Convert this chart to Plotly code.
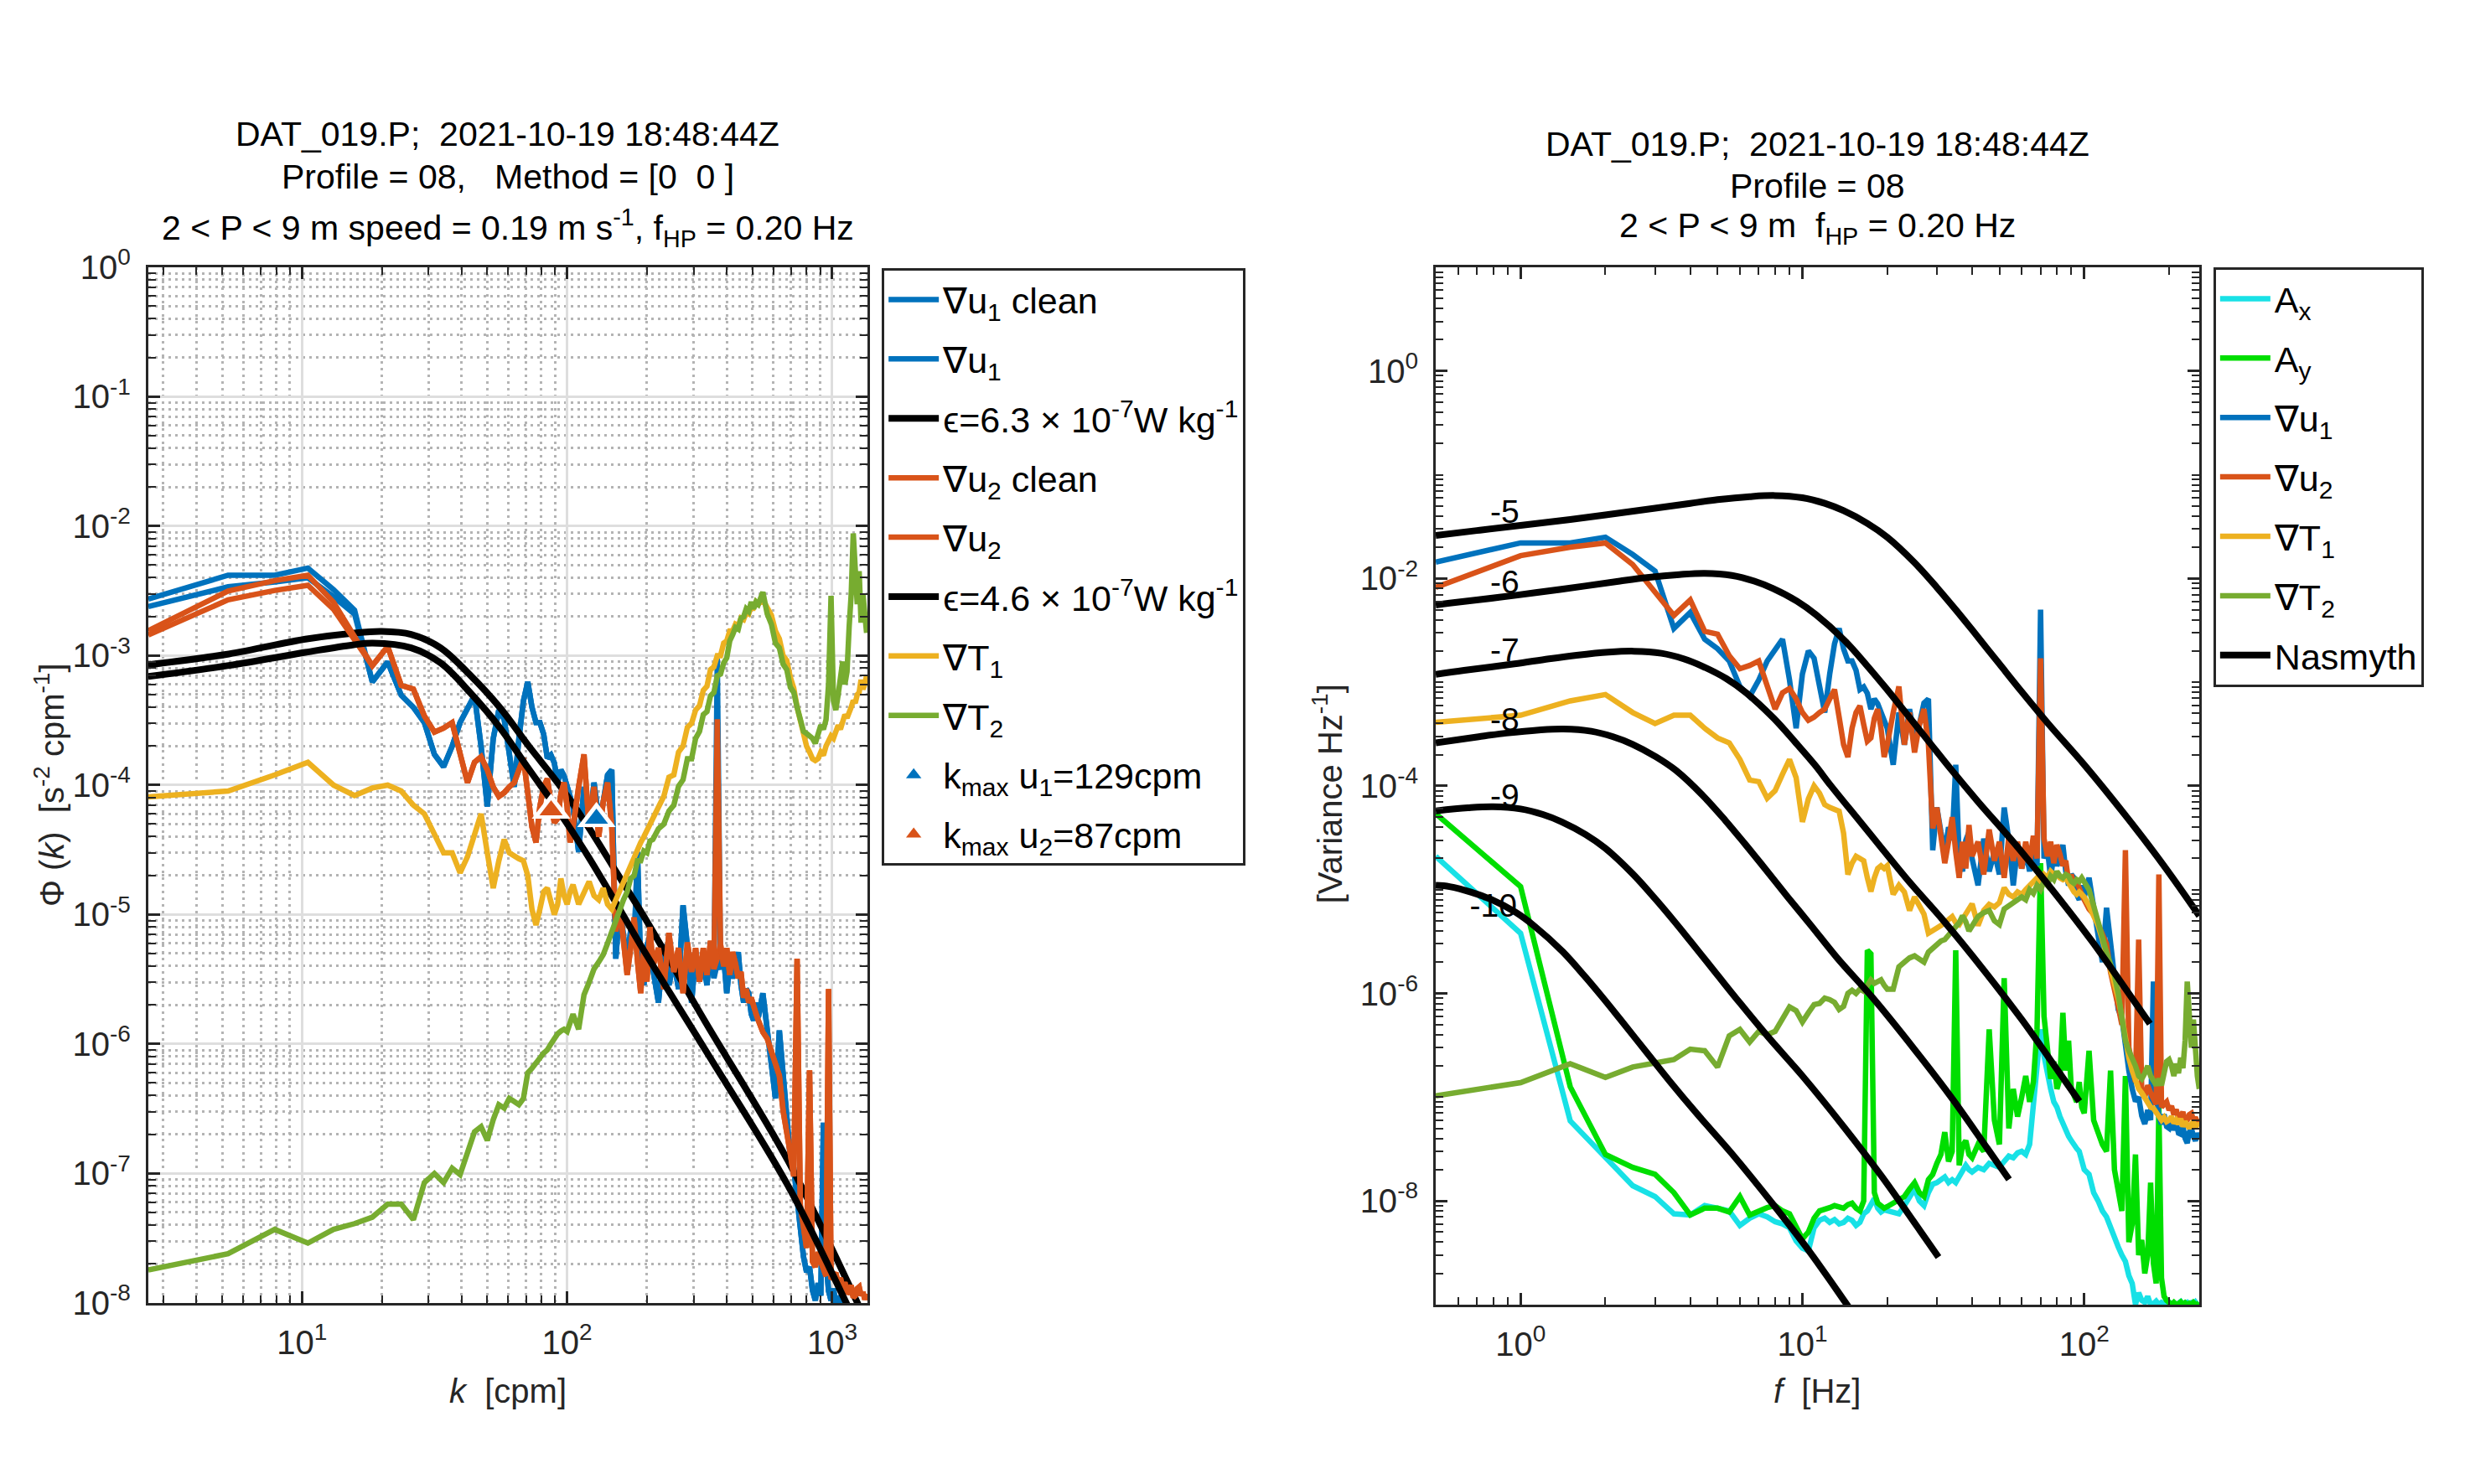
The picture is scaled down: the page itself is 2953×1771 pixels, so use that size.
import numpy as np
import plotly.graph_objects as go

# profiling speed [m/s]: k = f / W and Phi(k) = Phi(f) * W
W = 0.19

# frequency bins of the spectra [Hz]
F = [
    0.5, 1.0, 1.5, 2.0, 2.5, 3.0, 3.5, 4.0, 4.5, 5.0,
    5.5, 6.0, 6.5, 7.0, 7.5, 8.0, 8.5, 9.0, 9.5, 10.0,
    10.5, 11.0, 11.5, 12.0, 12.5, 13.0, 13.5, 14.0, 14.5, 15.0,
    15.5, 16.0, 16.5, 17.0, 17.5, 18.0, 18.5, 19.0, 19.5, 20.0,
    21, 22, 23, 24, 25, 26, 27, 28, 29, 30,
    31, 32, 33, 34, 35, 36, 37, 38, 39, 40,
    42, 44, 46, 48, 50, 52, 54, 56, 58, 60,
    62, 64, 66, 68, 70, 72, 74, 76, 78, 80,
    82, 84, 86, 88, 90, 92, 94, 96, 98, 100,
    104, 108, 112, 116, 120, 124, 128, 132, 136, 140,
    144, 148, 152, 156, 160, 164, 168, 172, 176, 180,
    184, 188, 192, 196, 200, 204, 208, 212, 216, 220,
    224, 228, 232, 236, 240, 244, 248, 252, 256,
]

# ---- frequency spectra (right panel) ----
AX = [
    2.1e-5, 3.8e-6, 5.9e-8, 2.6e-8, 1.4e-8, 1.1e-8, 7.5e-9, 7.3e-9, 9.0e-9, 8.5e-9,
    8.0e-9, 5.8e-9, 6.8e-9, 7.5e-9, 7.0e-9, 6.3e-9, 6.0e-9, 5.5e-9, 4.1e-9, 3.5e-9,
    3.3e-9, 5.5e-9, 6.5e-9, 6.8e-9, 6.2e-9, 6.6e-9, 6.0e-9, 6.2e-9, 6.8e-9, 6.5e-9,
    5.8e-9, 6.2e-9, 7.5e-9, 8.0e-9, 9.5e-9, 1.05e-8, 8.5e-9, 7.8e-9, 8.2e-9, 8.0e-9,
    7.8e-9, 7.5e-9, 9.0e-9, 1.1e-8, 1.3e-8, 1.0e-8, 9.0e-9, 1.2e-8, 1.45e-8, 1.5e-8,
    1.6e-8, 1.7e-8, 1.5e-8, 1.6e-8, 1.5e-8, 1.7e-8, 2.0e-8, 2.2e-8, 2.0e-8, 1.9e-8,
    2.1e-8, 2.0e-8, 2.3e-8, 2.2e-8, 2.1e-8, 2.4e-8, 2.7e-8, 2.6e-8, 2.9e-8, 3.0e-8,
    2.8e-8, 3.5e-8, 8.0e-8, 1.8e-7, 4.5e-7, 2.5e-7, 1.6e-7, 1.2e-7, 9.0e-8, 8.0e-8,
    6.5e-8, 5.5e-8, 4.8e-8, 4.2e-8, 3.8e-8, 3.4e-8, 3.2e-8, 3.0e-8, 2.4e-8, 2.0e-8,
    1.8e-8, 1.2e-8, 1.0e-8, 8.0e-9, 7.0e-9, 5.5e-9, 4.2e-9, 3.6e-9, 3.0e-9, 2.6e-9,
    1.9e-9, 1.6e-9, 1.0e-9, 1.3e-9, 1.1e-9, 1.05e-9, 1.2e-9, 1.0e-9, 1.02e-9, 1.08e-9,
    1.0e-9, 1.05e-9, 1.02e-9, 1.0e-9, 1.06e-9, 1.01e-9, 1.04e-9, 1.0e-9, 1.03e-9, 1.07e-9,
    1.0e-9, 1.02e-9, 1.05e-9, 1.0e-9, 1.04e-9, 1.01e-9, 1.06e-9, 1.0e-9, 1.03e-9,
]
AY = [
    5.4e-5, 1.07e-5, 1.26e-7, 2.8e-8, 2.1e-8, 1.8e-8, 1.2e-8, 7.3e-9, 8.5e-9, 8.5e-9,
    7.8e-9, 1.1e-8, 7.3e-9, 8.0e-9, 8.6e-9, 9.0e-9, 8.0e-9, 7.5e-9, 5.5e-9, 4.3e-9,
    5.0e-9, 6.8e-9, 8.0e-9, 8.2e-9, 8.6e-9, 9.0e-9, 8.8e-9, 8.5e-9, 9.2e-9, 9.5e-9,
    8.5e-9, 8.0e-9, 1.0e-8, 2.6e-6, 2.4e-6, 1.2e-8, 9.5e-9, 9.0e-9, 8.5e-9, 8.8e-9,
    9.5e-9, 1.0e-8, 1.1e-8, 1.3e-8, 1.5e-8, 1.2e-8, 1.1e-8, 1.6e-8, 1.8e-8, 2.3e-8,
    2.8e-8, 4.6e-8, 2.4e-8, 3.0e-8, 2.6e-6, 2.2e-8, 3.4e-8, 3.8e-8, 2.8e-8, 2.6e-8,
    3.5e-8, 3.0e-8, 4.5e-7, 6.0e-8, 3.5e-8, 1.4e-6, 5.0e-8, 1.2e-7, 6.5e-8, 1.0e-7,
    1.6e-7, 9.0e-8, 1.4e-7, 4.5e-7, 1.8e-5, 6.0e-7, 2.5e-7, 1.5e-7, 2.2e-7, 1.2e-7,
    1.5e-7, 6.5e-7, 1.8e-7, 3.5e-7, 1.2e-7, 1.0e-7, 9.0e-8, 1.4e-7, 8.0e-8, 7.0e-8,
    2.8e-7, 6.0e-8, 4.5e-8, 3.5e-8, 3.0e-8, 1.8e-7, 2.0e-8, 1.2e-8, 8.0e-9, 1.6e-7,
    4.0e-9, 6.0e-9, 2.8e-8, 3.0e-9, 4.2e-9, 2.0e-9, 3.0e-9, 1.5e-8, 2.5e-9, 1.6e-9,
    8.0e-8, 1.8e-9, 1.2e-9, 1.1e-9, 1.03e-9, 1.0e-9, 1.05e-9, 1.0e-9, 1.02e-9, 1.06e-9,
    1.0e-9, 1.04e-9, 1.0e-9, 1.03e-9, 1.0e-9, 1.05e-9, 1.01e-9, 1.0e-9, 1.04e-9,
]
GRAD_U1 = [
    1.44e-2, 2.2e-2, 2.2e-2, 2.5e-2, 1.7e-2, 1.18e-2, 3.3e-3, 4.7e-3, 2.6e-3, 2.1e-3,
    1.6e-3, 9.1e-4, 7.3e-4, 1.05e-3, 1.6e-3, 2.1e-3, 2.6e-3, 1.05e-3, 3.6e-4, 1.2e-3,
    2.0e-3, 1.7e-3, 9.1e-4, 5.1e-4, 1.2e-3, 2.35e-3, 3.3e-3, 2.1e-3, 1.6e-3, 1.6e-3,
    1.3e-3, 8.5e-4, 9.0e-4, 7.8e-4, 5.5e-4, 6.9e-4, 6.2e-4, 5.1e-4, 4.5e-4, 3.6e-4,
    1.6e-4, 5.1e-4, 2.5e-4, 5.5e-4, 2.9e-4, 3.9e-4, 6.3e-4, 6.9e-4, 2.4e-5, 6.2e-5,
    3.6e-5, 2.3e-5, 4.0e-5, 3.0e-5, 1.6e-4, 2.0e-5, 1.5e-5, 3.0e-5, 3.6e-5, 2.0e-5,
    1.1e-5, 3.1e-5, 1.5e-5, 2.3e-5, 1.4e-5, 6.2e-5, 3.0e-5, 1.1e-5, 2.6e-5, 1.6e-5,
    2.3e-5, 1.5e-5, 3.0e-5, 1.7e-5, 5.0e-3, 2.0e-5, 2.5e-5, 1.3e-5, 2.2e-5, 1.7e-5,
    2.0e-5, 2.7e-5, 1.5e-5, 1.1e-5, 1.4e-5, 1.3e-5, 9.0e-6, 8.0e-6, 1.1e-5, 8.5e-6,
    1.3e-5, 6.7e-6, 4.1e-6, 2.0e-6, 6.7e-6, 3.2e-6, 1.4e-6, 7.0e-7, 5.8e-7, 3.1e-7,
    1.8e-7, 1.2e-7, 9.1e-8, 1.0e-7, 6.6e-8, 5.5e-8, 7.5e-8, 6.0e-8, 1.3e-6, 1.1e-7,
    6.5e-8, 5.5e-8, 6.8e-8, 5.2e-8, 5.0e-8, 6.0e-8, 4.8e-8, 5.6e-8, 4.5e-8, 4.4e-8,
    5.2e-8, 4.0e-8, 3.6e-8, 4.6e-8, 5.0e-8, 4.2e-8, 3.8e-8, 4.5e-8, 4.0e-8,
]
GRAD_U1_CLEAN = [
    1.26e-2, 1.79e-2, 1.95e-2, 2.1e-2, 1.5e-2, 1.1e-2, 3.3e-3, 4.7e-3, 2.6e-3, 2.1e-3,
    1.6e-3, 9.1e-4, 7.3e-4, 1.05e-3, 1.6e-3, 2.1e-3, 2.6e-3, 1.05e-3, 3.6e-4, 1.2e-3,
    2.0e-3, 1.7e-3, 9.1e-4, 5.1e-4, 1.2e-3, 2.35e-3, 3.3e-3, 2.1e-3, 1.6e-3, 1.6e-3,
    1.3e-3, 8.5e-4, 9.0e-4, 7.8e-4, 5.5e-4, 6.9e-4, 6.2e-4, 5.1e-4, 4.5e-4, 3.6e-4,
    1.6e-4, 5.1e-4, 2.5e-4, 5.5e-4, 2.9e-4, 3.9e-4, 6.3e-4, 6.9e-4, 2.4e-5, 6.2e-5,
    3.6e-5, 2.3e-5, 4.0e-5, 3.0e-5, 1.6e-4, 2.0e-5, 1.5e-5, 3.0e-5, 3.6e-5, 2.0e-5,
    1.1e-5, 3.1e-5, 1.5e-5, 2.3e-5, 1.4e-5, 6.2e-5, 3.0e-5, 1.1e-5, 2.6e-5, 1.6e-5,
    2.3e-5, 1.5e-5, 3.0e-5, 1.7e-5, 2.2e-5, 2.0e-5, 2.5e-5, 1.3e-5, 2.2e-5, 1.7e-5,
    2.0e-5, 2.7e-5, 1.5e-5, 1.1e-5, 1.4e-5, 1.3e-5, 9.0e-6, 8.0e-6, 1.1e-5, 8.5e-6,
    1.3e-5, 6.7e-6, 4.1e-6, 2.0e-6, 6.7e-6, 3.2e-6, 1.4e-6, 7.0e-7, 5.8e-7, 3.1e-7,
    1.8e-7, 1.2e-7, 9.1e-8, 1.0e-7, 6.6e-8, 5.5e-8, 7.5e-8, 6.0e-8, 1.3e-6, 1.1e-7,
    6.5e-8, 5.5e-8, 6.8e-8, 5.2e-8, 5.0e-8, 6.0e-8, 4.8e-8, 5.6e-8, 4.5e-8, 4.4e-8,
    5.2e-8, 4.0e-8, 3.6e-8, 4.6e-8, 5.0e-8, 4.2e-8, 3.8e-8, 4.5e-8, 4.0e-8,
]
GRAD_U2 = [
    8.2e-3, 1.66e-2, 2.0e-2, 2.2e-2, 1.36e-2, 7.4e-3, 4.4e-3, 6.2e-3, 3.1e-3, 2.9e-3,
    1.8e-3, 1.35e-3, 1.45e-3, 1.6e-3, 9.1e-4, 5.5e-4, 7.9e-4, 8.7e-4, 6.9e-4, 5.1e-4,
    4.3e-4, 4.6e-4, 5.1e-4, 5.5e-4, 6.9e-4, 8.5e-4, 4.6e-4, 2.5e-4, 1.9e-4, 3.6e-4,
    5.1e-4, 5.9e-4, 3.9e-4, 2.7e-4, 2.9e-4, 4.5e-4, 5.5e-4, 3.6e-4, 1.9e-4, 2.5e-4,
    5.1e-4, 9.1e-4, 2.5e-4, 5.1e-4, 2.1e-4, 3.9e-4, 5.5e-4, 2.5e-4, 3.9e-5, 6.2e-5,
    3.3e-5, 1.8e-5, 2.9e-5, 5.0e-5, 2.3e-5, 1.3e-5, 2.9e-5, 1.6e-5, 4.2e-5, 2.1e-5,
    2.9e-5, 1.4e-5, 3.8e-5, 1.9e-5, 2.9e-5, 1.3e-5, 3.2e-5, 1.9e-5, 2.9e-5, 1.6e-5,
    2.9e-5, 1.8e-5, 3.3e-5, 2.0e-5, 1.7e-3, 3.1e-5, 2.1e-5, 2.9e-5, 1.8e-5, 2.7e-5,
    2.2e-5, 1.7e-5, 1.9e-5, 1.2e-5, 1.4e-5, 1.1e-5, 1.2e-5, 1.0e-5, 9.0e-6, 8.0e-6,
    6.5e-6, 5.8e-6, 4.6e-6, 3.6e-6, 3.0e-6, 1.6e-6, 1.0e-6, 7.5e-7, 5.0e-7, 2.4e-5,
    3.0e-7, 2.0e-7, 1.4e-7, 3.3e-6, 1.1e-7, 1.0e-7, 1.3e-7, 1.1e-7, 9.5e-8, 8.5e-8,
    1.4e-5, 8.0e-8, 8.5e-8, 9.0e-8, 7.5e-8, 8.2e-8, 6.8e-8, 7.6e-8, 6.2e-8, 6.5e-8,
    7.2e-8, 5.8e-8, 6.0e-8, 6.8e-8, 7.0e-8, 6.0e-8, 6.4e-8, 5.6e-8, 6.2e-8,
]
GRAD_U2_CLEAN = [
    7.6e-3, 1.42e-2, 1.68e-2, 1.84e-2, 1.2e-2, 7.0e-3, 4.4e-3, 6.2e-3, 3.1e-3, 2.9e-3,
    1.8e-3, 1.35e-3, 1.45e-3, 1.6e-3, 9.1e-4, 5.5e-4, 7.9e-4, 8.7e-4, 6.9e-4, 5.1e-4,
    4.3e-4, 4.6e-4, 5.1e-4, 5.5e-4, 6.9e-4, 8.5e-4, 4.6e-4, 2.5e-4, 1.9e-4, 3.6e-4,
    5.1e-4, 5.9e-4, 3.9e-4, 2.7e-4, 2.9e-4, 4.5e-4, 5.5e-4, 3.6e-4, 1.9e-4, 2.5e-4,
    5.1e-4, 9.1e-4, 2.5e-4, 5.1e-4, 2.1e-4, 3.9e-4, 5.5e-4, 2.5e-4, 3.9e-5, 6.2e-5,
    3.3e-5, 1.8e-5, 2.9e-5, 5.0e-5, 2.3e-5, 1.3e-5, 2.9e-5, 1.6e-5, 4.2e-5, 2.1e-5,
    2.9e-5, 1.4e-5, 3.8e-5, 1.9e-5, 2.9e-5, 1.3e-5, 3.2e-5, 1.9e-5, 2.9e-5, 1.6e-5,
    2.9e-5, 1.8e-5, 3.3e-5, 2.0e-5, 2.4e-5, 3.1e-5, 2.1e-5, 2.9e-5, 1.8e-5, 2.7e-5,
    2.2e-5, 1.7e-5, 1.9e-5, 1.2e-5, 1.4e-5, 1.1e-5, 1.2e-5, 1.0e-5, 9.0e-6, 8.0e-6,
    6.5e-6, 5.8e-6, 4.6e-6, 3.6e-6, 3.0e-6, 1.6e-6, 1.0e-6, 7.5e-7, 5.0e-7, 2.4e-5,
    3.0e-7, 2.0e-7, 1.4e-7, 3.3e-6, 1.1e-7, 1.0e-7, 1.3e-7, 1.1e-7, 9.5e-8, 8.5e-8,
    1.4e-5, 8.0e-8, 8.5e-8, 9.0e-8, 7.5e-8, 8.2e-8, 6.8e-8, 7.6e-8, 6.2e-8, 6.5e-8,
    7.2e-8, 5.8e-8, 6.0e-8, 6.8e-8, 7.0e-8, 6.0e-8, 6.4e-8, 5.6e-8, 6.2e-8,
]
GRAD_T1 = [
    4.1e-4, 4.8e-4, 6.6e-4, 7.6e-4, 5.1e-4, 4.0e-4, 4.8e-4, 4.8e-4, 3.6e-4, 2.9e-4,
    2.6e-4, 1.8e-4, 1.14e-4, 1.1e-4, 7.6e-5, 9.0e-5, 1.3e-4, 1.8e-4, 1.2e-4, 4.5e-5,
    7.5e-5, 1.0e-4, 8.5e-5, 6.6e-5, 6.2e-5, 6.0e-5, 5.7e-5, 3.5e-5, 1.4e-5, 1.8e-5,
    2.1e-5, 2.0e-5, 1.9e-5, 1.3e-5, 9.6e-6, 1.3e-5, 1.6e-5, 1.7e-5, 1.6e-5, 1.7e-5,
    9.0e-6, 1.1e-5, 9.5e-6, 6.3e-6, 8.5e-6, 7.0e-6, 5.8e-6, 3.8e-6, 4.0e-6, 4.2e-6,
    4.5e-6, 4.8e-6, 5.2e-6, 5.5e-6, 4.8e-6, 4.6e-6, 5.2e-6, 5.8e-6, 6.5e-6, 7.3e-6,
    4.5e-6, 6.3e-6, 7.2e-6, 6.8e-6, 7.5e-6, 1.04e-5, 9.0e-6, 8.5e-6, 9.5e-6, 9.0e-6,
    1.0e-5, 1.1e-5, 1.2e-5, 1.3e-5, 1.2e-5, 1.4e-5, 1.3e-5, 1.5e-5, 1.4e-5, 1.4e-5,
    1.3e-5, 1.25e-5, 1.3e-5, 1.15e-5, 1.05e-5, 9.5e-6, 9.0e-6, 9.5e-6, 9.0e-6, 8.5e-6,
    7.0e-6, 5.5e-6, 4.5e-6, 3.3e-6, 2.4e-6, 1.8e-6, 1.3e-6, 9.0e-7, 6.0e-7, 3.5e-7,
    2.4e-7, 1.8e-7, 1.5e-7, 1.2e-7, 1.1e-7, 1.0e-7, 9.0e-8, 8.0e-8, 7.8e-8, 7.0e-8,
    6.5e-8, 6.0e-8, 6.4e-8, 5.8e-8, 6.0e-8, 6.5e-8, 5.6e-8, 6.0e-8, 5.5e-8, 6.2e-8,
    5.2e-8, 5.8e-8, 5.4e-8, 5.0e-8, 5.5e-8, 5.8e-8, 5.0e-8, 5.6e-8, 5.2e-8,
]
GRAD_T2 = [
    1.03e-7, 1.38e-7, 2.1e-7, 1.55e-7, 1.95e-7, 2.1e-7, 2.3e-7, 2.9e-7, 2.8e-7, 1.95e-7,
    3.9e-7, 4.5e-7, 3.4e-7, 4.3e-7, 4.0e-7, 4.3e-7, 5.7e-7, 7.4e-7, 6.8e-7, 5.3e-7,
    6.5e-7, 7.8e-7, 8.0e-7, 9.0e-7, 8.7e-7, 8.2e-7, 7.0e-7, 7.5e-7, 1.0e-6, 1.07e-6,
    1.0e-6, 1.1e-6, 1.05e-6, 1.2e-6, 1.35e-6, 1.25e-6, 1.3e-6, 1.35e-6, 1.2e-6, 1.1e-6,
    1.1e-6, 1.8e-6, 2.0e-6, 2.2e-6, 2.3e-6, 2.1e-6, 2.0e-6, 2.5e-6, 2.7e-6, 3.0e-6,
    3.2e-6, 3.3e-6, 3.6e-6, 4.0e-6, 4.4e-6, 4.8e-6, 5.6e-6, 4.9e-6, 4.0e-6, 4.5e-6,
    5.5e-6, 6.0e-6, 6.3e-6, 5.0e-6, 4.6e-6, 6.5e-6, 7.0e-6, 7.4e-6, 7.8e-6, 8.5e-6,
    8.0e-6, 1.0e-5, 9.2e-6, 1.1e-5, 1.0e-5, 1.2e-5, 1.1e-5, 1.35e-5, 1.25e-5, 1.5e-5,
    1.35e-5, 1.3e-5, 1.4e-5, 1.35e-5, 1.2e-5, 1.15e-5, 1.25e-5, 1.2e-5, 1.3e-5, 1.2e-5,
    1.0e-5, 7.0e-6, 4.8e-6, 3.5e-6, 2.5e-6, 1.9e-6, 1.5e-6, 1.0e-6, 6.0e-7, 3.5e-7,
    2.8e-7, 2.4e-7, 2.0e-7, 1.6e-7, 1.5e-7, 1.7e-7, 2.0e-7, 1.6e-7, 1.4e-7, 1.3e-7,
    1.5e-7, 1.3e-7, 1.7e-7, 2.2e-7, 2.3e-7, 2.0e-7, 1.6e-7, 2.1e-7, 1.7e-7, 2.4e-7,
    1.9e-7, 3.5e-7, 1.3e-6, 5.0e-7, 3.0e-7, 5.6e-7, 2.2e-7, 1.6e-7, 1.2e-7,
]

# ---- thermal gradient wavenumber spectra (left panel, response-corrected) ----
GRAD_T1_K = [
    8.1e-5, 9.0e-5, 1.2e-4, 1.5e-4, 1.0e-4, 8.3e-5, 9.5e-5, 1.0e-4, 9.0e-5, 7.0e-5,
    6.0e-5, 4.2e-5, 3.0e-5, 3.0e-5, 2.1e-5, 2.8e-5, 4.0e-5, 6.0e-5, 3.0e-5, 1.6e-5,
    2.6e-5, 3.8e-5, 3.0e-5, 2.8e-5, 2.7e-5, 2.6e-5, 2.0e-5, 1.1e-5, 8.3e-6, 1.1e-5,
    1.5e-5, 1.6e-5, 1.3e-5, 1.0e-5, 1.2e-5, 1.9e-5, 1.4e-5, 1.2e-5, 1.5e-5, 1.7e-5,
    1.2e-5, 1.5e-5, 1.8e-5, 1.4e-5, 1.3e-5, 1.6e-5, 1.2e-5, 1.1e-5, 1.3e-5, 1.5e-5,
    1.8e-5, 2.1e-5, 2.5e-5, 2.8e-5, 3.3e-5, 3.6e-5, 4.0e-5, 4.5e-5, 5.0e-5, 5.6e-5,
    7.0e-5, 8.2e-5, 1.15e-4, 1.2e-4, 1.8e-4, 2.0e-4, 2.8e-4, 3.0e-4, 3.8e-4, 4.1e-4,
    5.4e-4, 5.8e-4, 7.8e-4, 8.2e-4, 1.0e-3, 1.0e-3, 1.25e-3, 1.3e-3, 1.55e-3, 1.55e-3,
    1.75e-3, 1.7e-3, 1.95e-3, 1.9e-3, 2.15e-3, 2.1e-3, 2.4e-3, 2.35e-3, 2.6e-3, 2.5e-3,
    2.7e-3, 2.3e-3, 2.05e-3, 1.55e-3, 1.35e-3, 1.0e-3, 9.2e-4, 6.8e-4, 5.6e-4, 4.0e-4,
    3.2e-4, 2.4e-4, 2.0e-4, 1.8e-4, 1.6e-4, 1.55e-4, 1.6e-4, 1.8e-4, 1.7e-4, 2.0e-4,
    2.2e-4, 2.4e-4, 2.3e-4, 2.6e-4, 2.9e-4, 2.7e-4, 3.2e-4, 3.5e-4, 3.3e-4, 3.8e-4,
    4.0e-4, 4.5e-4, 4.3e-4, 5.0e-4, 5.2e-4, 6.5e-4, 5.5e-4, 6.0e-4, 7.0e-4,
]
GRAD_T2_K = [
    1.8e-8, 2.4e-8, 3.7e-8, 2.9e-8, 3.7e-8, 4.1e-8, 4.6e-8, 5.8e-8, 5.8e-8, 4.4e-8,
    8.5e-8, 1.0e-7, 8.5e-8, 1.1e-7, 9.8e-8, 1.5e-7, 2.1e-7, 2.3e-7, 1.8e-7, 2.6e-7,
    3.4e-7, 3.2e-7, 3.8e-7, 3.6e-7, 3.4e-7, 3.8e-7, 6.0e-7, 6.5e-7, 7.3e-7, 7.8e-7,
    8.5e-7, 9.0e-7, 1.0e-6, 1.1e-6, 1.2e-6, 1.26e-6, 1.3e-6, 1.25e-6, 1.5e-6, 1.7e-6,
    1.3e-6, 2.4e-6, 3.0e-6, 3.8e-6, 4.3e-6, 4.9e-6, 6.0e-6, 7.5e-6, 8.8e-6, 1.1e-5,
    1.3e-5, 1.5e-5, 1.9e-5, 2.0e-5, 2.6e-5, 2.6e-5, 3.1e-5, 3.0e-5, 3.7e-5, 3.8e-5,
    4.6e-5, 5.0e-5, 6.3e-5, 7.0e-5, 9.8e-5, 1.1e-4, 1.6e-4, 1.6e-4, 2.3e-4, 2.6e-4,
    3.5e-4, 3.7e-4, 4.9e-4, 5.2e-4, 7.0e-4, 7.2e-4, 8.8e-4, 9.6e-4, 1.3e-3, 1.45e-3,
    1.65e-3, 1.6e-3, 1.95e-3, 2.0e-3, 2.3e-3, 2.2e-3, 2.6e-3, 2.3e-3, 2.6e-3, 2.5e-3,
    3.1e-3, 2.1e-3, 1.75e-3, 1.25e-3, 1.15e-3, 8.6e-4, 7.8e-4, 5.7e-4, 5.2e-4, 4.0e-4,
    3.2e-4, 2.6e-4, 2.5e-4, 2.4e-4, 2.3e-4, 2.1e-4, 2.6e-4, 2.9e-4, 2.7e-4, 3.2e-4,
    6.0e-4, 2.9e-3, 4.5e-4, 3.8e-4, 5.0e-4, 6.5e-4, 9.0e-4, 6.0e-4, 7.5e-4, 1.66e-3,
    3.0e-3, 8.8e-3, 4.2e-3, 2.5e-3, 4.5e-3, 1.8e-3, 3.0e-3, 2.2e-3, 1.5e-3,
]

# ---- Nasmyth spectra, left panel [cpm], [s^-2 cpm^-1] ----
EPSILON = [6.3e-7, 4.6e-7]
NAS_K1 = [2.63, 5.3, 10.3, 15.5, 20, 25.8, 33.3, 43, 55.6, 71.7, 92.5, 119, 154, 199, 331, 680, 1245, 1400]
NAS_PHI1 = [8.5e-4, 1.03e-3, 1.34e-3, 1.49e-3, 1.54e-3, 1.46e-3, 1.15e-3, 7.1e-4, 4.0e-4, 2.0e-4,
            1.03e-4, 4.9e-5, 2.1e-5, 9.0e-6, 1.5e-6, 1.26e-7, 1.0e-8, 6.0e-9]
NAS_K2 = [2.63, 5.3, 10.3, 15.5, 18.5, 25.8, 33.3, 43, 55.6, 71.7, 92.5, 119, 154, 199, 331, 680, 1130, 1400]
NAS_PHI2 = [6.9e-4, 8.4e-4, 1.06e-3, 1.21e-3, 1.25e-3, 1.15e-3, 8.8e-4, 5.2e-4, 2.8e-4, 1.33e-4,
            6.4e-5, 2.9e-5, 1.2e-5, 4.9e-6, 9.1e-7, 8.1e-8, 1.0e-8, 4.0e-9]

# k_max markers
K_MAX = [129, 87]
PHI_AT_KMAX = [5.5e-5, 6.4e-5]

# ---- Nasmyth spectra, right panel, log10(epsilon) = -5 ... -10 ----
NAS5_F = [0.5, 0.7, 1.0, 1.5, 2, 3, 4, 5, 6.5, 8, 10, 12, 14, 17, 20, 25, 30, 35, 40, 50, 60, 75, 100, 140, 190, 256]
NAS5_V = [2.6e-2, 2.9e-2, 3.25e-2, 3.7e-2, 4.1e-2, 4.75e-2, 5.3e-2, 5.75e-2, 6.15e-2, 6.3e-2, 6.0e-2, 5.3e-2, 4.5e-2,
          3.4e-2, 2.5e-2, 1.42e-2, 8.2e-3, 5.0e-3, 3.2e-3, 1.5e-3, 8.1e-4, 3.9e-4, 1.6e-4, 5.2e-5, 1.76e-5, 5.6e-6]
NAS6_F = [0.5, 0.56, 0.84, 1.13, 1.69, 2.25, 2.81, 3.66, 4.5, 5.62, 6.75, 7.87, 9.56, 11.2, 14.1, 16.9, 19.7,
          22.5, 28.1, 33.7, 42.2, 56.2, 78.7, 107, 144, 171]
NAS6_V = [5.55e-3, 5.78e-3, 6.58e-3, 7.29e-3, 8.45e-3, 9.43e-3, 1.02e-2, 1.09e-2, 1.12e-2, 1.07e-2, 9.43e-3, 8.0e-3,
          6.05e-3, 4.45e-3, 2.53e-3, 1.46e-3, 8.9e-4, 5.69e-4, 2.67e-4, 1.44e-4, 6.94e-5, 2.85e-5, 9.25e-6,
          3.13e-6, 9.96e-7, 5.1e-7]
NAS7_F = [0.5, 0.63, 0.95, 1.26, 1.58, 2.05, 2.53, 3.16, 3.79, 4.43, 5.38, 6.32, 7.91, 9.49, 11.1, 12.6, 15.8,
          19.0, 23.7, 31.6, 44.3, 60.1, 81.0, 96.1]
NAS7_V = [1.19e-3, 1.3e-3, 1.5e-3, 1.68e-3, 1.82e-3, 1.95e-3, 1.99e-3, 1.9e-3, 1.68e-3, 1.42e-3, 1.08e-3, 7.9e-4,
          4.49e-4, 2.59e-4, 1.58e-4, 1.01e-4, 4.74e-5, 2.56e-5, 1.23e-5, 5.06e-6, 1.64e-6, 5.57e-7, 1.77e-7, 9.1e-8]
NAS8_F = [0.5, 0.71, 0.89, 1.16, 1.42, 1.78, 2.13, 2.49, 3.02, 3.56, 4.45, 5.34, 6.22, 7.11, 8.89, 10.7, 13.3,
          17.8, 24.9, 33.8, 45.5, 54.1]
NAS8_V = [2.6e-4, 2.98e-4, 3.23e-4, 3.46e-4, 3.54e-4, 3.37e-4, 2.98e-4, 2.53e-4, 1.91e-4, 1.41e-4, 7.99e-5, 4.61e-5,
          2.81e-5, 1.8e-5, 8.43e-6, 4.56e-6, 2.19e-6, 9.0e-7, 2.92e-7, 9.9e-8, 3.15e-8, 1.61e-8]
NAS9_F = [0.5, 0.65, 0.8, 1.0, 1.2, 1.4, 1.7, 2.0, 2.5, 3.0, 3.5, 4.0, 5.0, 6.0, 7.5, 10, 14, 19, 25.6, 30.4]
NAS9_V = [5.75e-5, 6.15e-5, 6.3e-5, 6.0e-5, 5.3e-5, 4.5e-5, 3.4e-5, 2.5e-5, 1.42e-5, 8.2e-6, 5.0e-6, 3.2e-6,
          1.5e-6, 8.1e-7, 3.9e-7, 1.6e-7, 5.2e-8, 1.76e-8, 5.6e-9, 2.87e-9]
NAS10_F = [0.5, 0.56, 0.67, 0.79, 0.96, 1.12, 1.41, 1.69, 1.97, 2.25, 2.81, 3.37, 4.22, 5.62, 7.87, 10.7, 14.4, 15.5]
NAS10_V = [1.1e-5, 1.07e-5, 9.43e-6, 8.0e-6, 6.05e-6, 4.45e-6, 2.53e-6, 1.46e-6, 8.9e-7, 5.69e-7, 2.67e-7,
           1.44e-7, 6.94e-8, 2.85e-8, 9.25e-9, 3.13e-9, 9.96e-10, 7.5e-10]
NAS_LOG_EPS = [-5, -6, -7, -8, -9, -10]
NAS_LABEL_F = [0.78, 0.78, 0.78, 0.78, 0.78, 0.66]
NAS_LABEL_V = [4.1e-2, 8.7e-3, 1.9e-3, 4.1e-4, 7.5e-5, 6.6e-6]

# tick exponents
LEFT_X_EXP = [1, 2, 3]
LEFT_Y_EXP = [-8, -7, -6, -5, -4, -3, -2, -1, 0]
RIGHT_X_EXP = [0, 1, 2]
RIGHT_Y_EXP = [-8, -6, -4, -2, 0]

for arr in (AX, AY, GRAD_U1, GRAD_U1_CLEAN, GRAD_U2, GRAD_U2_CLEAN, GRAD_T1, GRAD_T2, GRAD_T1_K, GRAD_T2_K):
    assert len(arr) == len(F)

BLUE = "#0072BD"
ORANGE = "#D95319"
YELLOW = "#EDB120"
GREEN = "#77AC30"
CYAN = "#18E1E6"
LIME = "#00DE00"
AXCOL = "#262626"
FONT = "Liberation Sans, Arial, Helvetica, sans-serif"
LW = 6.5      # spectra
NW = 8        # Nasmyth

# the page body adds an 8 px offset; compensate in paper coordinates
DX = -8 / 2953
DY = 8 / 1771


def px(x):
    return x + DX


def py(y):
    return y + DY


f = np.array(F)
k = f / W

fig = go.Figure()


def line(x, y, name, color, legend, xa="x", ya="y", width=LW, show=True, group=None, shape="linear"):
    return go.Scatter(x=x, y=y, mode="lines", name=name, legend=legend, xaxis=xa, yaxis=ya,
                      line=dict(color=color, width=width, shape=shape), showlegend=show,
                      legendgroup=group or name, hoverinfo="skip")


def eps_label(e):
    ex = int(np.floor(np.log10(e)))
    return "ϵ=%.1f × 10<sup>%d</sup>W kg<sup>-1</sup>" % (e / 10.0 ** ex, ex)


# left panel: wavenumber spectra
fig.add_trace(line(k, np.array(GRAD_U1_CLEAN) * W, "∇u<sub>1</sub> clean", BLUE, "legend"))
fig.add_trace(line(k, np.array(GRAD_U1) * W, "∇u<sub>1</sub>", BLUE, "legend"))
fig.add_trace(line(NAS_K1, NAS_PHI1, eps_label(EPSILON[0]), "black", "legend", width=NW, shape="spline"))
fig.add_trace(line(k, np.array(GRAD_U2_CLEAN) * W, "∇u<sub>2</sub> clean", ORANGE, "legend"))
fig.add_trace(line(k, np.array(GRAD_U2) * W, "∇u<sub>2</sub>", ORANGE, "legend"))
fig.add_trace(line(NAS_K2, NAS_PHI2, eps_label(EPSILON[1]), "black", "legend", width=NW, shape="spline"))
fig.add_trace(line(k, GRAD_T1_K, "∇T<sub>1</sub>", YELLOW, "legend"))
fig.add_trace(line(k, GRAD_T2_K, "∇T<sub>2</sub>", GREEN, "legend"))
for i, col in enumerate([BLUE, ORANGE]):
    # white halo under the marker, then the coloured triangle (legend entry)
    fig.add_trace(go.Scatter(
        x=[K_MAX[i]], y=[PHI_AT_KMAX[i]], mode="markers", showlegend=False, legend="legend",
        legendgroup="km%d" % i, marker=dict(symbol="triangle-up", size=40, color="white"),
        hoverinfo="skip"))
    fig.add_trace(go.Scatter(
        x=[K_MAX[i]], y=[PHI_AT_KMAX[i]], mode="markers", legend="legend",
        name="k<sub>max</sub> u<sub>%d</sub>=%dcpm" % (i + 1, K_MAX[i]), legendgroup="km%d" % i,
        marker=dict(symbol="triangle-up", size=24, color=col), hoverinfo="skip"))

# right panel: frequency spectra
R = dict(xa="x2", ya="y2")
fig.add_trace(line(f, AX, "A<sub>x</sub>", CYAN, "legend2", **R))
fig.add_trace(line(f, AY, "A<sub>y</sub>", LIME, "legend2", **R))
fig.add_trace(line(f, GRAD_U1, "∇u<sub>1</sub>", BLUE, "legend2", group="r_u1", **R))
fig.add_trace(line(f, GRAD_U2, "∇u<sub>2</sub>", ORANGE, "legend2", group="r_u2", **R))
fig.add_trace(line(f, GRAD_T1, "∇T<sub>1</sub>", YELLOW, "legend2", group="r_t1", **R))
fig.add_trace(line(f, GRAD_T2, "∇T<sub>2</sub>", GREEN, "legend2", group="r_t2", **R))
nas = [(NAS5_F, NAS5_V), (NAS6_F, NAS6_V), (NAS7_F, NAS7_V),
       (NAS8_F, NAS8_V), (NAS9_F, NAS9_V), (NAS10_F, NAS10_V)]
for i, (nf, nv) in enumerate(nas):
    fig.add_trace(line(nf, nv, "Nasmyth", "black", "legend2", width=NW, show=(i == 0),
                       group="nas", shape="spline", **R))
fig.add_trace(go.Scatter(
    x=NAS_LABEL_F, y=NAS_LABEL_V, mode="text", text=[str(e) for e in NAS_LOG_EPS],
    textposition="middle right", textfont=dict(size=39, color="black", family=FONT),
    xaxis="x2", yaxis="y2", showlegend=False, hoverinfo="skip"))


def minor_vals(e0, e1, mant):
    return [m * 10.0 ** e for e in range(e0, e1) for m in mant]


def log_axis(exps, rng, domain, anchor, minor, grid):
    return dict(
        type="log", range=rng, domain=domain, anchor=anchor,
        showline=True, linecolor=AXCOL, linewidth=3, mirror="ticks",
        ticks="inside", ticklen=14, tickwidth=2.5, tickcolor=AXCOL,
        tickmode="array", tickvals=[10.0 ** e for e in exps],
        ticktext=["10<sup>%d</sup>" % e for e in exps],
        tickfont=dict(size=40, color=AXCOL, family=FONT), ticklabelstandoff=10,
        showgrid=grid, gridcolor="#DEDEDE", gridwidth=3, zeroline=False,
        minor=dict(tickmode="array", tickvals=minor, ticks="inside", ticklen=9,
                   tickwidth=2, tickcolor=AXCOL, showgrid=grid, gridcolor="#B4B4B4",
                   griddash="3px,5px", gridwidth=2.5),
    )


LX = [px(0.0599), px(0.3505)]
LY = [py(0.1220), py(0.8199)]
RX = [px(0.5801), px(0.8886)]
RY = [py(0.1209), py(0.8199)]

legend_style = dict(bgcolor="white", bordercolor=AXCOL, borderwidth=3, xanchor="left", yanchor="top",
                    font=dict(size=43, color="black", family=FONT), itemwidth=60,
                    tracegroupgap=12, traceorder="grouped")

fig.update_layout(
    width=2953, height=1771, margin=dict(l=0, r=0, t=0, b=0, autoexpand=False),
    paper_bgcolor="white", plot_bgcolor="white",
    font=dict(family=FONT, color="black"),
    xaxis=log_axis(LEFT_X_EXP, [np.log10(0.5 / W), np.log10(258 / W)], LX, "y",
                   minor_vals(0, 4, range(2, 10)), True),
    yaxis=log_axis(LEFT_Y_EXP, [-8, 0], LY, "x", minor_vals(-8, 0, range(2, 10)), True),
    xaxis2=log_axis(RIGHT_X_EXP, [np.log10(0.5), np.log10(256)], RX, "y2",
                    minor_vals(-1, 3, range(2, 10)), False),
    yaxis2=log_axis(RIGHT_Y_EXP, [-9, 1], RY, "x2", minor_vals(-9, 1, range(1, 10)), False),
    legend=dict(x=px(0.3563), y=py(0.8193), **legend_style),
    legend2=dict(x=px(0.8943), y=py(0.8199), **legend_style),
    showlegend=True,
)

titles = [
    (0.2052, 0.9097, "DAT_019.P;\u00a0\u00a02021-10-19 18:48:44Z"),
    (0.2052, 0.8809, "Profile = 08,\u00a0\u00a0\u00a0Method = [0\u00a0\u00a00 ]"),
    (0.2052, 0.8464, "2 &lt; P &lt; 9 m speed = 0.19 m s<sup>-1</sup>, f<sub>HP</sub> = 0.20 Hz"),
    (0.7342, 0.9029, "DAT_019.P;\u00a0\u00a02021-10-19 18:48:44Z"),
    (0.7342, 0.8747, "Profile = 08"),
    (0.7342, 0.8464, "2 &lt; P &lt; 9 m\u00a0\u00a0f<sub>HP</sub> = 0.20 Hz"),
]
for x, y, t in titles:
    fig.add_annotation(x=px(x), y=py(y), xref="paper", yref="paper", text=t, showarrow=False,
                       xanchor="center", yanchor="middle", font=dict(size=41, color="black", family=FONT))

labels = [
    (0.2052, 0.0627, "<i>k</i>\u00a0\u00a0[cpm]", 0),
    (0.7342, 0.0627, "<i>f</i>\u00a0\u00a0[Hz]", 0),
    (0.0200, 0.4709, "Φ (<i>k</i>)\u00a0\u00a0[s<sup>-2</sup> cpm<sup>-1</sup>]", -90),
    (0.5365, 0.4653, "[Variance Hz<sup>-1</sup>]", -90),
]
for x, y, t, a in labels:
    fig.add_annotation(x=px(x), y=py(y), xref="paper", yref="paper", text=t, showarrow=False, textangle=a,
                       xanchor="center", yanchor="middle", font=dict(size=40, color=AXCOL, family=FONT))

fig.write_html("out.html")
